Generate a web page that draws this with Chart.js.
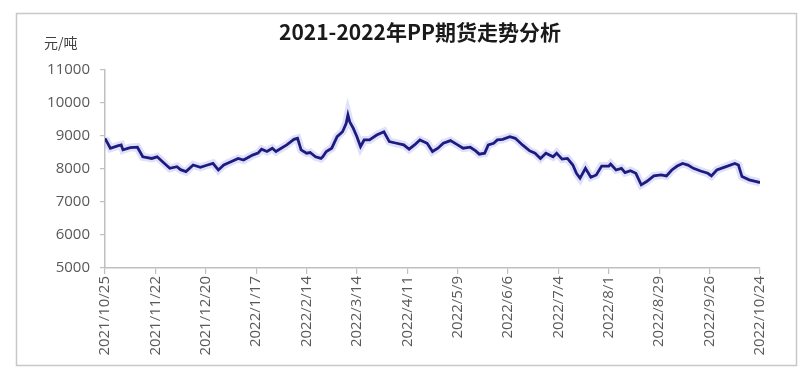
<!DOCTYPE html>
<html><head><meta charset="utf-8">
<script src="https://cdn.jsdelivr.net/npm/chart.js@4/dist/chart.umd.min.js"></script>
<style>html,body{margin:0;padding:0;background:#fff;}#wrap{width:810px;height:380px;position:relative;}</style>
</head><body><div id="wrap"><canvas id="c" width="810" height="380"></canvas></div>
<script>
const titleText = '2021-2022年PP期货走势分析';
const unitText = '元/吨';
const startDate = '2021-10-25';
const dates = [
'2021-10-25','2021-10-28','2021-11-01','2021-11-03','2021-11-04','2021-11-08','2021-11-12','2021-11-15','2021-11-20','2021-11-23',
'2021-11-26','2021-11-30','2021-12-04','2021-12-06','2021-12-09','2021-12-13','2021-12-17','2021-12-21','2021-12-24','2021-12-27',
'2021-12-30','2022-01-03','2022-01-07','2022-01-10','2022-01-15','2022-01-18','2022-01-20','2022-01-23','2022-01-26','2022-01-28',
'2022-01-30','2022-02-03','2022-02-07','2022-02-09','2022-02-11','2022-02-14','2022-02-16','2022-02-19','2022-02-22','2022-02-23',
'2022-02-25','2022-02-28','2022-03-03','2022-03-06','2022-03-08','2022-03-09','2022-03-10','2022-03-12','2022-03-14','2022-03-16',
'2022-03-18','2022-03-21','2022-03-25','2022-03-29','2022-04-01','2022-04-05','2022-04-09','2022-04-12','2022-04-15','2022-04-18',
'2022-04-22','2022-04-25','2022-04-28','2022-05-01','2022-05-05','2022-05-09','2022-05-12','2022-05-16','2022-05-19','2022-05-21',
'2022-05-24','2022-05-26','2022-05-29','2022-05-31','2022-06-03','2022-06-07','2022-06-10','2022-06-14','2022-06-18','2022-06-21',
'2022-06-24','2022-06-27','2022-07-01','2022-07-03','2022-07-06','2022-07-09','2022-07-12','2022-07-14','2022-07-16','2022-07-19',
'2022-07-22','2022-07-25','2022-07-28','2022-08-01','2022-08-02','2022-08-05','2022-08-08','2022-08-10','2022-08-13','2022-08-16',
'2022-08-19','2022-08-22','2022-08-26','2022-08-30','2022-09-02','2022-09-05','2022-09-08','2022-09-11','2022-09-14','2022-09-17',
'2022-09-21','2022-09-25','2022-09-27','2022-09-30','2022-10-04','2022-10-10','2022-10-12','2022-10-14','2022-10-18','2022-10-22',
'2022-10-24'
];
const prices = [
8930,8630,8700,8730,8580,8650,8660,8370,8320,8370,
8220,8020,8070,7980,7920,8120,8050,8120,8170,7970,
8120,8220,8320,8270,8420,8480,8600,8530,8630,8530,
8600,8730,8900,8930,8580,8480,8500,8370,8320,8370,
8530,8630,8980,9130,9380,9640,9430,9230,8980,8680,
8880,8880,9030,9130,8830,8780,8730,8600,8730,8880,
8780,8530,8630,8780,8860,8730,8630,8660,8550,8450,
8480,8730,8780,8880,8900,8980,8930,8730,8550,8480,
8320,8480,8370,8480,8300,8320,8120,7870,7720,8020,
7750,7820,8090,8090,8150,7970,8020,7890,7950,7870,
7520,7620,7790,7820,7790,7970,8090,8170,8120,8020,
7940,7870,7790,7970,8050,8170,8120,7770,7670,7620,
7590
];
const xTickLabels = ['2021/10/25','2021/11/22','2021/12/20','2022/1/17','2022/2/14','2022/3/14','2022/4/11','2022/5/9','2022/6/6','2022/7/4','2022/8/1','2022/8/29','2022/9/26','2022/10/24'];
const yTickValues = [5000,6000,7000,8000,9000,10000,11000];

const DAY = 86400000;
function dayIndex(s){const [y,m,d]=s.split('-').map(Number);const [y0,m0,d0]=startDate.split('-').map(Number);return Math.round((Date.UTC(y,m-1,d)-Date.UTC(y0,m0-1,d0))/DAY);}
const points = dates.map((d,i)=>({x:dayIndex(d),y:prices[i]}));
const tickStep = dayIndex('2021-11-22');
const lastDay = dayIndex('2022-10-24');

const decor = {
  id:'decor',
  afterDraw(chart){
    const ctx = chart.ctx;
    ctx.save();
    ctx.strokeStyle='#c8c8c8';ctx.lineWidth=1.5;
    ctx.beginPath();ctx.rect(16.5,13.5,780,352);ctx.stroke();
    ctx.fillStyle='#1a1a1a';
    ctx.font='bold 21px "Noto Sans CJK SC", sans-serif';
    ctx.textAlign='center';ctx.textBaseline='middle';
    ctx.fillText(titleText,420,32);
    ctx.fillStyle='#404040';
    ctx.font='14px "Noto Sans CJK SC", sans-serif';
    ctx.textAlign='left';
    ctx.fillText(unitText,44,43);
    ctx.restore();
  }
};

new Chart(document.getElementById('c'),{
  type:'line',
  data:{datasets:[
    {data:points,borderColor:'#1c1c80',borderWidth:2.8,pointRadius:0,tension:0,order:1},
    {data:points,borderColor:'rgba(130,130,235,0.25)',borderWidth:8,pointRadius:0,tension:0,order:2}
  ]},
  options:{
    responsive:false,animation:false,devicePixelRatio:1,
    layout:{padding:{top:70,right:50,left:0,bottom:0}},
    plugins:{legend:{display:false},tooltip:{enabled:false},title:{display:false}},
    scales:{
      x:{type:'linear',min:0,max:lastDay,
        afterBuildTicks(s){s.ticks=xTickLabels.map((_,i)=>({value:i*tickStep}));},
        afterFit(s){s.height=112;},
        ticks:{autoSkip:false,maxRotation:90,minRotation:90,padding:2,color:'#595959',
          font:{family:'"Open Sans", sans-serif',size:15},
          callback:(v)=>xTickLabels[Math.round(v/tickStep)]},
        grid:{drawOnChartArea:false,drawTicks:true,tickLength:6,color:'#bfbfbf',lineWidth:1.2},
        border:{color:'#bfbfbf',width:1.5}
      },
      y:{min:yTickValues[0],max:yTickValues[yTickValues.length-1],
        afterBuildTicks(s){s.ticks=yTickValues.map(v=>({value:v}));},
        afterFit(s){s.width=105;},
        ticks:{padding:10,color:'#595959',font:{family:'"Open Sans", sans-serif',size:15},
          callback:(v)=>String(v)},
        grid:{drawOnChartArea:false,drawTicks:true,tickLength:5,color:'#bfbfbf',lineWidth:1.2},
        border:{color:'#bfbfbf',width:1.5}
      }
    }
  },
  plugins:[decor]
});
</script></body></html>
